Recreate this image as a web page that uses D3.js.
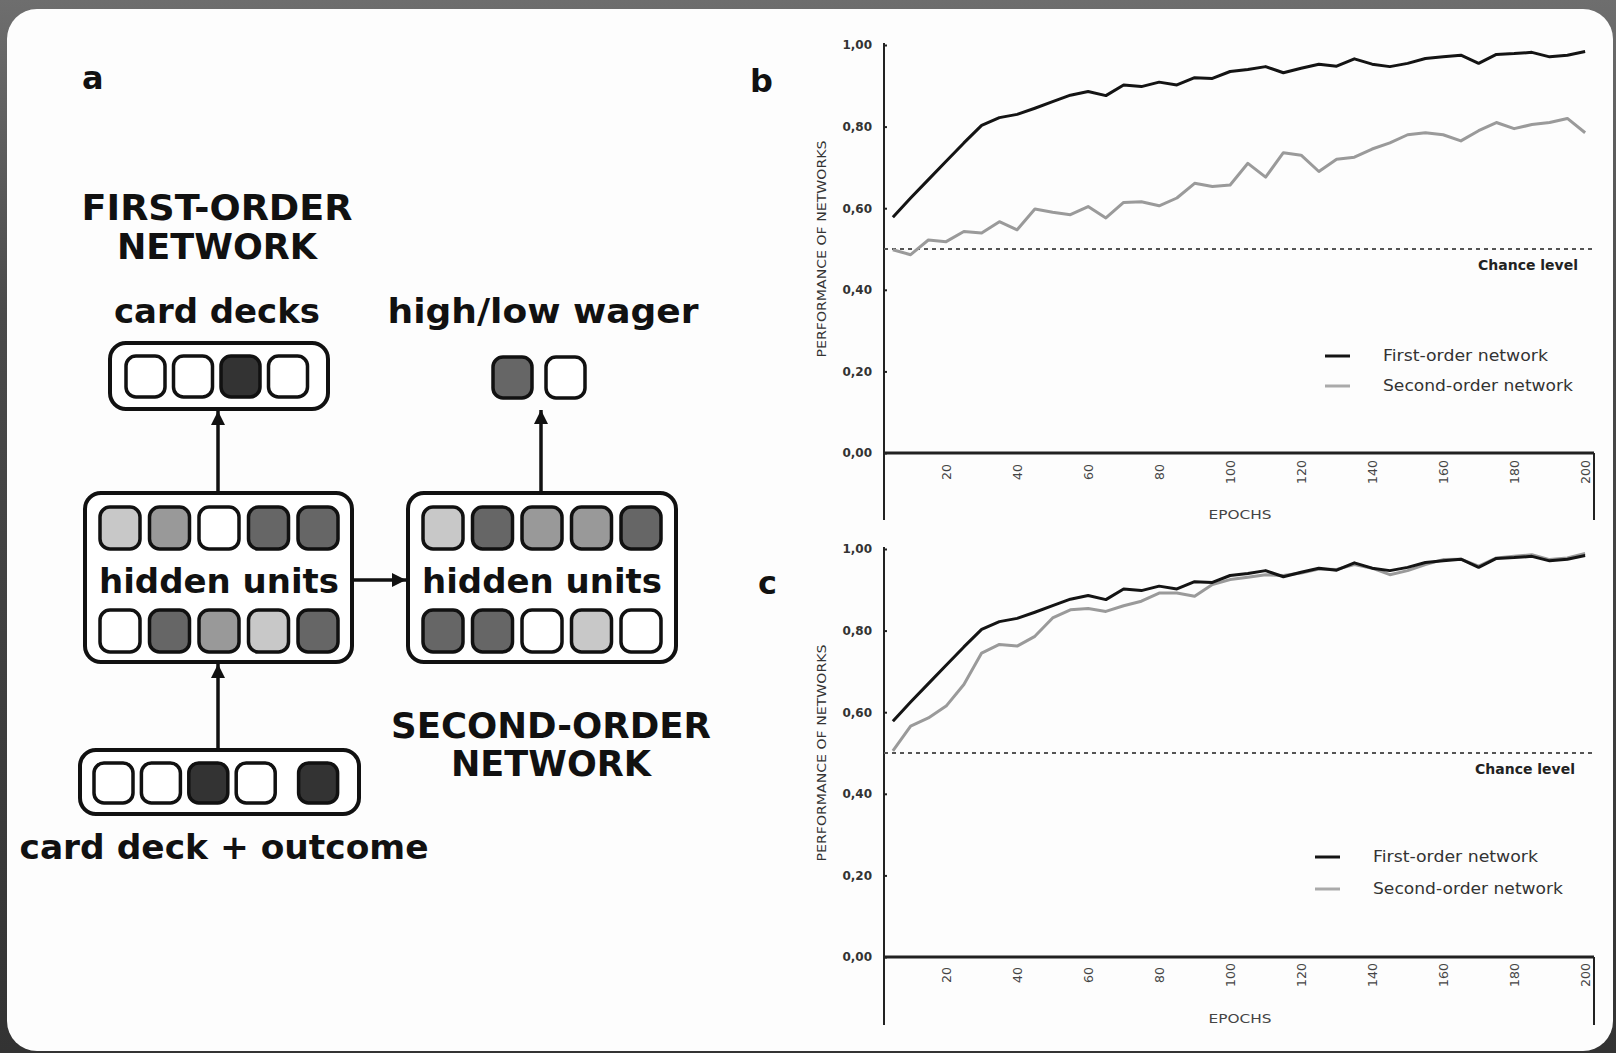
<!DOCTYPE html>
<html><head><meta charset="utf-8">
<script src="https://cdn.jsdelivr.net/npm/d3@7"></script>
<style>html,body{margin:0;padding:0;background:#454545;}svg{display:block;}</style>
</head><body>
<svg id="fig" width="1616" height="1053"></svg>
<script>
// ---------------- DATA ----------------
const epochs = [5,10,15,20,25,30,35,40,45,50,55,60,65,70,75,80,85,90,95,100,105,110,115,120,125,130,135,140,145,150,155,160,165,170,175,180,185,190,195,200];
const firstOrderB = [0.578,0.625,0.670,0.715,0.760,0.803,0.822,0.830,0.845,0.861,0.877,0.886,0.876,0.902,0.898,0.909,0.902,0.920,0.918,0.935,0.940,0.947,0.932,0.943,0.953,0.948,0.966,0.953,0.947,0.955,0.967,0.971,0.975,0.955,0.977,0.979,0.982,0.971,0.975,0.984];
const secondOrderB = [0.498,0.486,0.522,0.518,0.543,0.539,0.567,0.547,0.598,0.590,0.584,0.604,0.576,0.614,0.616,0.606,0.625,0.661,0.653,0.657,0.710,0.676,0.736,0.730,0.690,0.720,0.725,0.745,0.760,0.780,0.785,0.780,0.765,0.790,0.810,0.795,0.805,0.810,0.820,0.785];
const firstOrderC = [0.578,0.625,0.670,0.715,0.760,0.803,0.822,0.830,0.845,0.861,0.877,0.886,0.876,0.902,0.898,0.909,0.902,0.920,0.918,0.935,0.940,0.947,0.932,0.943,0.953,0.948,0.966,0.953,0.947,0.955,0.967,0.971,0.975,0.955,0.977,0.979,0.982,0.971,0.975,0.984];
const secondOrderC = [0.505,0.566,0.586,0.615,0.668,0.745,0.766,0.762,0.786,0.831,0.851,0.854,0.847,0.861,0.872,0.892,0.892,0.884,0.913,0.925,0.931,0.937,0.935,0.941,0.951,0.950,0.962,0.953,0.937,0.947,0.962,0.974,0.975,0.958,0.978,0.982,0.986,0.974,0.978,0.989];
const xTicks = [20,40,60,80,100,120,140,160,180,200];
const yTicks = [0,0.2,0.4,0.6,0.8,1.0];
const chanceLevel = 0.5;
const seriesNames = ["First-order network","Second-order network"];

// diagram cell shades (activation levels)
const cardDeckCells = ["#ffffff","#ffffff","#333333","#ffffff"];
const wagerCells = ["#666666","#ffffff"];
const hidden1Top = ["#c8c8c8","#999999","#ffffff","#666666","#666666"];
const hidden1Bottom = ["#ffffff","#666666","#999999","#c8c8c8","#666666"];
const hidden2Top = ["#c8c8c8","#666666","#999999","#999999","#666666"];
const hidden2Bottom = ["#666666","#666666","#ffffff","#c8c8c8","#ffffff"];
const inputCells = ["#ffffff","#ffffff","#333333","#ffffff","#333333"];

// ---------------- DRAW ----------------
const svg = d3.select("#fig");
const defs = svg.append("defs");
const bg = defs.append("linearGradient").attr("id","bgGrad").attr("x1",0).attr("y1",0).attr("x2",0).attr("y2",1);
bg.append("stop").attr("offset","0").attr("stop-color","#6e6e6e");
bg.append("stop").attr("offset","0.3").attr("stop-color","#4a4a4a");
bg.append("stop").attr("offset","1").attr("stop-color","#333333");
svg.append("rect").attr("width",1616).attr("height",1053).attr("fill","url(#bgGrad)");
svg.append("rect").attr("x",7).attr("y",9).attr("width",1606).attr("height",1042).attr("rx",30).attr("fill","#fdfdfd");

defs.append("marker").attr("id","arrow").attr("viewBox","0 0 10 10").attr("refX",10).attr("refY",5)
  .attr("markerWidth",4.4).attr("markerHeight",4.0).attr("markerUnits","strokeWidth").attr("orient","auto")
  .append("path").attr("d","M0,0 L10,5 L0,10 Z").attr("fill","#111");

// ---------- Panel a ----------
const A = svg.append("g").attr("font-family","'DejaVu Sans', Verdana, sans-serif").attr("font-weight","bold").attr("fill","#111");

function box(x,y,w,h){A.append("rect").attr("x",x).attr("y",y).attr("width",w).attr("height",h).attr("rx",16)
  .attr("fill","#fff").attr("stroke","#111").attr("stroke-width",4);}
function cells(arr,x0,pitch,w,y,h,gapAfter,gap){
  const sc = d3.scaleLinear().domain([0,1]).range([x0,x0+pitch]);
  arr.forEach((c,i)=>{
    const xx = sc(i) + (gapAfter!=null && i>gapAfter ? gap : 0);
    A.append("rect").attr("x",xx).attr("y",y).attr("width",w).attr("height",h).attr("rx",10)
     .attr("fill",c).attr("stroke","#111").attr("stroke-width",3.5);});
}
function arrow(x1,y1,x2,y2){A.append("line").attr("x1",x1).attr("y1",y1).attr("x2",x2).attr("y2",y2)
  .attr("stroke","#111").attr("stroke-width",3.5).attr("marker-end","url(#arrow)");}
function label(x,y,size,txt,len){const t=A.append("text").attr("x",x).attr("y",y).attr("font-size",size).attr("text-anchor","middle").text(txt);
  if(len) t.attr("textLength",len).attr("lengthAdjust","spacingAndGlyphs");}

box(110,343,218,66); cells(cardDeckCells,126,47.5,39,356,41);
cells(wagerCells,493,53,39,357,41);
box(85,493,267,169); cells(hidden1Top,100,49.5,40,507,42); cells(hidden1Bottom,100,49.5,40,610,42);
box(408,493,268,169); cells(hidden2Top,423,49.5,40,507,42); cells(hidden2Bottom,423,49.5,40,610,42);
box(80,750,279,64); cells(inputCells,94,47.4,39,763,40,3,15);
arrow(218,493,218,411);
arrow(541,493,541,410);
arrow(352,580,406,580);
arrow(218,750,218,664);

A.append("text").attr("x",82).attr("y",89).attr("font-size",32).text("a");
label(217,220,36,"FIRST-ORDER",271);
label(217,259,36,"NETWORK",200);
label(217,323,34,"card decks",206);
label(543,323,34,"high/low wager",311);
label(219,593,34,"hidden units",240);
label(542,593,34,"hidden units",240);
label(551,738,36,"SECOND-ORDER",320);
label(551,776,36,"NETWORK",200);
label(224,859,33,"card deck + outcome",409);

// ---------- Panels b and c ----------
const x = d3.scaleLinear().domain([2.5,202.5]).range([884,1594]);
function panel(cfg){
  const g = svg.append("g").attr("font-family","'DejaVu Sans', Verdana, sans-serif");
  const y = d3.scaleLinear().domain([0,1]).range([cfg.y0, cfg.y0-408]);
  const r0 = x.range()[0], r1 = x.range()[1];
  // frame
  g.append("line").attr("x1",r0).attr("x2",r0).attr("y1",y(1)-2).attr("y2",cfg.yb).attr("stroke","#222").attr("stroke-width",2);
  g.append("line").attr("x1",r1).attr("x2",r1).attr("y1",y(0)).attr("y2",cfg.yb).attr("stroke","#222").attr("stroke-width",2);
  g.append("line").attr("x1",r0).attr("x2",r1).attr("y1",y(0)).attr("y2",y(0)).attr("stroke","#222").attr("stroke-width",3);
  // y ticks
  const ya = g.append("g").attr("transform",`translate(${r0},0)`)
    .call(d3.axisLeft(y).tickValues(yTicks).tickSize(-3).tickPadding(12).tickFormat(d=>d3.format(".2f")(d).replace(".",",")));
  ya.select(".domain").remove();
  ya.selectAll("line").attr("stroke","#222").attr("stroke-width",2);
  ya.selectAll("text").attr("font-size",12).attr("font-weight","bold").attr("fill","#333").attr("font-family","'DejaVu Sans', sans-serif");
  // x tick labels (rotated)
  g.selectAll(".xt").data(xTicks).enter().append("text")
    .attr("transform",d=>`translate(${x(d)},${cfg.xl}) rotate(-90)`)
    .attr("text-anchor","middle").attr("dominant-baseline","central")
    .attr("font-size",12.5).attr("fill","#444").text(d=>d);
  // axis titles
  g.append("text").attr("transform",`translate(821,${y(0.5)}) rotate(-90)`).attr("text-anchor","middle")
    .attr("dominant-baseline","central").attr("font-size",13).attr("fill","#333")
    .attr("textLength",217).attr("lengthAdjust","spacingAndGlyphs").text("PERFORMANCE OF NETWORKS");
  g.append("text").attr("x",1240).attr("y",cfg.ep).attr("text-anchor","middle").attr("dominant-baseline","central")
    .attr("font-size",13).attr("fill","#444").attr("textLength",63).attr("lengthAdjust","spacingAndGlyphs").text("EPOCHS");
  // chance level
  g.append("line").attr("x1",r0).attr("x2",r1).attr("y1",y(chanceLevel)).attr("y2",y(chanceLevel))
    .attr("stroke","#555").attr("stroke-width",2).attr("stroke-dasharray","4,4");
  g.append("text").attr("x",cfg.clx).attr("y",y(chanceLevel)+16).attr("text-anchor","end").attr("dominant-baseline","central")
    .attr("font-size",13.5).attr("font-weight","bold").attr("fill","#222")
    .attr("textLength",100).attr("lengthAdjust","spacingAndGlyphs").text("Chance level");
  // lines
  const line = d3.line().x((d,i)=>x(epochs[i])).y(d=>y(d));
  g.append("path").datum(cfg.second).attr("d",line).attr("fill","none").attr("stroke","#9a9a9a").attr("stroke-width",3).attr("stroke-linejoin","round");
  g.append("path").datum(cfg.first).attr("d",line).attr("fill","none").attr("stroke","#141414").attr("stroke-width",3).attr("stroke-linejoin","round");
  // legend
  const colors = ["#141414","#aaaaaa"];
  const lens = [165, 190];
  seriesNames.forEach((n,i)=>{
    const ly = cfg.ly + i*cfg.lgap;
    g.append("line").attr("x1",cfg.lx).attr("x2",cfg.lx+25).attr("y1",ly).attr("y2",ly).attr("stroke",colors[i]).attr("stroke-width",3);
    g.append("text").attr("x",cfg.lx+58).attr("y",ly).attr("dominant-baseline","central").attr("font-size",15.5).attr("fill","#333")
      .attr("textLength",lens[i]).attr("lengthAdjust","spacingAndGlyphs").text(n);
  });
  // panel letter
  svg.append("text").attr("x",cfg.letterX).attr("y",cfg.letterY).attr("font-family","'DejaVu Sans', sans-serif")
    .attr("font-weight","bold").attr("font-size",32).attr("fill","#111").text(cfg.letter);
}
panel({y0:453, yb:520, xl:472, ep:514, clx:1578, lx:1325, ly:356, lgap:30, first:firstOrderB, second:secondOrderB, letter:"b", letterX:750, letterY:92});
panel({y0:957, yb:1025, xl:975, ep:1018, clx:1575, lx:1315, ly:857, lgap:32, first:firstOrderC, second:secondOrderC, letter:"c", letterX:758, letterY:594});
</script>
</body></html>
